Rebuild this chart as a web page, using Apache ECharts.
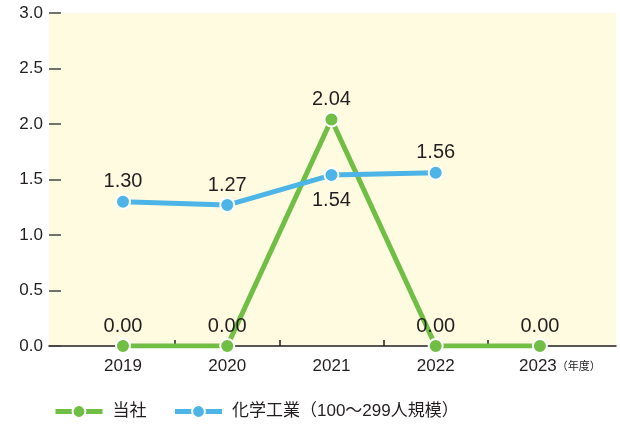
<!DOCTYPE html>
<html>
<head>
<meta charset="utf-8">
<script src="https://cdn.jsdelivr.net/npm/echarts@6/dist/echarts.min.js"></script>
<style>
  html, body { margin: 0; padding: 0; background: #fff; }
  #chart { width: 620px; height: 425px; }
</style>
</head>
<body>
<div id="chart"></div>
<script>
  // data
  var years = ['2019', '2020', '2021', '2022', '2023'];
  var ourCompany = [0.00, 0.00, 2.04, 0.00, 0.00];
  var chemIndustry = [1.30, 1.27, 1.54, 1.56, null];
  var labelBelow = [false, false, true, false, false]; // 1.54 sits under its dot

  var GREEN = '#70be44';
  var BLUE = '#4cb4e7';
  var INK = '#231f20';
  var FONT = '"Liberation Sans", Arial, "Noto Sans CJK JP", sans-serif';

  var chart = echarts.init(document.getElementById('chart'));

  function lineSeries(name, values, color, z) {
    return {
      name: name,
      type: 'line',
      z: z,
      color: color,
      data: values.map(function (v, i) {
        if (v == null) return null;
        var below = name !== '当社' && labelBelow[i];
        return {
          value: [i, v],
          label: below ? { position: 'bottom', distance: 7 } : {}
        };
      }).filter(function (d) { return d; }),
      lineStyle: { width: 5, color: color },
      symbol: 'circle', symbolSize: 14,
      itemStyle: { color: color, borderColor: '#fff', borderWidth: 2 },
      label: {
        show: true, position: 'top', distance: 2,
        fontSize: 20, color: INK,
        formatter: function (p) { return p.value[1].toFixed(2); }
      }
    };
  }

  chart.setOption({
    animation: false,
    textStyle: { fontFamily: FONT },
    grid: {
      left: 49, right: 4, top: 13, bottom: 79,
      show: true, backgroundColor: '#fefbe1', borderWidth: 0
    },
    legend: {
      left: 53, top: 403, padding: 0,
      itemWidth: 47, itemHeight: 16, itemGap: 26,
      lineStyle: { width: 5 },
      textStyle: { fontSize: 17, color: INK, fontFamily: FONT, padding: [0, 0, 0, 5] },
      data: ['当社', '化学工業（100〜299人規模）']
    },
    xAxis: {
      type: 'value',
      min: -0.71, max: 4.73,
      splitLine: { show: false },
      axisLine: { show: true, onZero: false, lineStyle: { color: INK, width: 1.5 } },
      axisTick: {
        show: true, inside: true, length: 6,
        customValues: [0.5, 1.5, 2.5, 3.5],
        lineStyle: { color: INK, width: 1.5 }
      },
      axisLabel: {
        customValues: [0, 1, 2, 3, 4],
        margin: 12,
        fontSize: 17, color: INK,
        formatter: function (v) {
          var i = Math.round(v);
          if (i === years.length - 1) return '{a|' + years[i] + '}{s|（年度）}';
          return years[i];
        },
        rich: {
          a: { fontSize: 17, color: INK, padding: [0, 0, 0, 40] },
          s: { fontSize: 11, color: INK }
        }
      }
    },
    yAxis: {
      type: 'value',
      min: 0, max: 3, interval: 0.5,
      axisLine: { show: false, onZero: false },
      splitLine: { show: false },
      axisTick: { show: true, inside: true, length: 12, lineStyle: { color: '#444', width: 1.5 } },
      axisLabel: {
        margin: 6, fontSize: 17, color: INK,
        formatter: function (v) { return v.toFixed(1); }
      }
    },
    series: [
      lineSeries('当社', ourCompany, GREEN, 2),
      lineSeries('化学工業（100〜299人規模）', chemIndustry, BLUE, 3)
    ]
  });
</script>
</body>
</html>
